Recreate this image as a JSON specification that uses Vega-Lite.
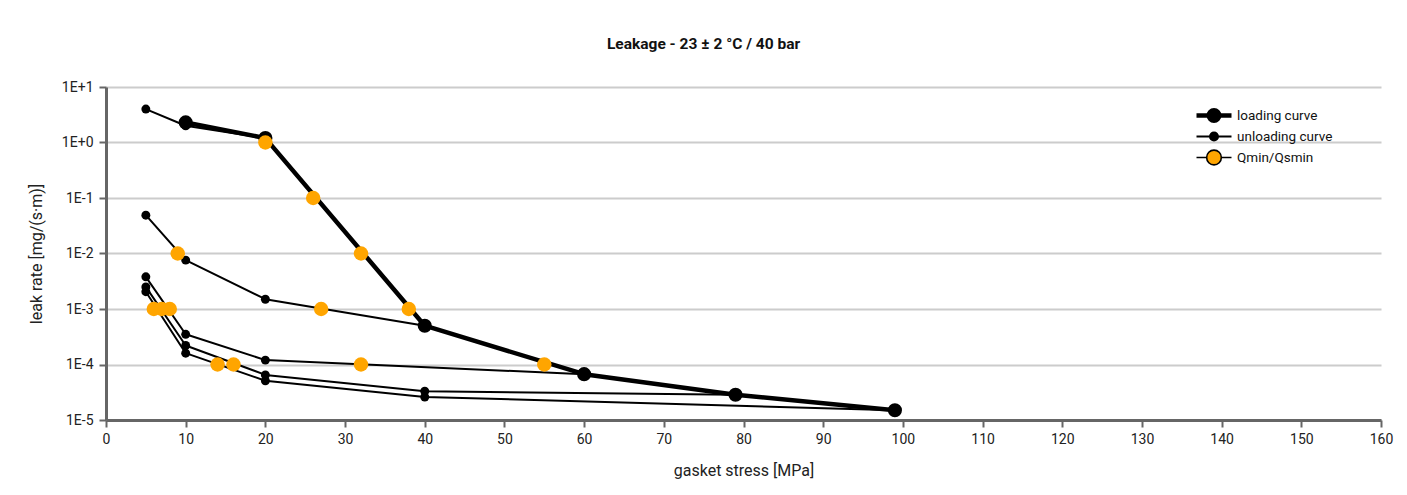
{
  "$schema": "https://vega.github.io/schema/vega-lite/v6.json",
  "width": 1275,
  "height": 333,
  "autosize": {"type": "none"},
  "padding": {"left": 106, "top": 87, "right": 26, "bottom": 75},
  "background": "white",
  "title": {
    "text": "Leakage - 23 ± 2 °C / 40 bar",
    "font": "Roboto",
    "fontSize": 15.5,
    "fontWeight": "bold",
    "color": "#111111",
    "anchor": "middle",
    "dx": -40,
    "offset": 28
  },
  "config": {
    "font": "Roboto",
    "view": {"stroke": null},
    "axis": {
      "domainColor": "#666666",
      "domainWidth": 3,
      "tickColor": "#666666",
      "tickWidth": 2,
      "tickSize": 7,
      "labelFont": "Roboto",
      "labelFontSize": 14,
      "labelColor": "#222222",
      "labelFlush": false,
      "titleFont": "Roboto",
      "titleFontSize": 16,
      "titleFontWeight": "normal",
      "titleColor": "#222222",
      "gridColor": "#cccccc",
      "gridWidth": 2
    },
    "legend": {"labelFont": "Roboto", "labelFontSize": 13.5, "labelColor": "#111111"}
  },
  "data": {
    "values": [
      {"x": 10, "y": 2.3, "s": "loading curve", "c": "L", "o": 1},
      {"x": 20, "y": 1.2, "s": "loading curve", "c": "L", "o": 2},
      {"x": 40, "y": 0.0005, "s": "loading curve", "c": "L", "o": 3},
      {"x": 60, "y": 0.000067, "s": "loading curve", "c": "L", "o": 4},
      {"x": 79, "y": 0.0000285, "s": "loading curve", "c": "L", "o": 5},
      {"x": 99, "y": 0.000015, "s": "loading curve", "c": "L", "o": 6},
      {"x": 20, "y": 1.2, "s": "unloading curve", "c": "U1", "o": 1},
      {"x": 10, "y": 2.0, "s": "unloading curve", "c": "U1", "o": 2},
      {"x": 5, "y": 4.0, "s": "unloading curve", "c": "U1", "o": 3},
      {"x": 40, "y": 0.0005, "s": "unloading curve", "c": "U2", "o": 1},
      {"x": 20, "y": 0.0015, "s": "unloading curve", "c": "U2", "o": 2},
      {"x": 10, "y": 0.0076, "s": "unloading curve", "c": "U2", "o": 3},
      {"x": 5, "y": 0.049, "s": "unloading curve", "c": "U2", "o": 4},
      {"x": 60, "y": 0.000067, "s": "unloading curve", "c": "U3", "o": 1},
      {"x": 20, "y": 0.00012, "s": "unloading curve", "c": "U3", "o": 2},
      {"x": 10, "y": 0.00035, "s": "unloading curve", "c": "U3", "o": 3},
      {"x": 5, "y": 0.0038, "s": "unloading curve", "c": "U3", "o": 4},
      {"x": 79, "y": 0.0000285, "s": "unloading curve", "c": "U4", "o": 1},
      {"x": 40, "y": 0.000033, "s": "unloading curve", "c": "U4", "o": 2},
      {"x": 20, "y": 0.000065, "s": "unloading curve", "c": "U4", "o": 3},
      {"x": 10, "y": 0.00022, "s": "unloading curve", "c": "U4", "o": 4},
      {"x": 5, "y": 0.0025, "s": "unloading curve", "c": "U4", "o": 5},
      {"x": 99, "y": 0.000015, "s": "unloading curve", "c": "U5", "o": 1},
      {"x": 40, "y": 0.000026, "s": "unloading curve", "c": "U5", "o": 2},
      {"x": 20, "y": 0.000051, "s": "unloading curve", "c": "U5", "o": 3},
      {"x": 10, "y": 0.00016, "s": "unloading curve", "c": "U5", "o": 4},
      {"x": 5, "y": 0.00205, "s": "unloading curve", "c": "U5", "o": 5},
      {"x": 20, "y": 1, "s": "Qmin/Qsmin", "c": "Q", "o": 1},
      {"x": 26, "y": 0.1, "s": "Qmin/Qsmin", "c": "Q", "o": 2},
      {"x": 32, "y": 0.01, "s": "Qmin/Qsmin", "c": "Q", "o": 3},
      {"x": 38, "y": 0.001, "s": "Qmin/Qsmin", "c": "Q", "o": 4},
      {"x": 55, "y": 0.0001, "s": "Qmin/Qsmin", "c": "Q", "o": 5},
      {"x": 9, "y": 0.01, "s": "Qmin/Qsmin", "c": "Q", "o": 6},
      {"x": 27, "y": 0.001, "s": "Qmin/Qsmin", "c": "Q", "o": 7},
      {"x": 32, "y": 0.0001, "s": "Qmin/Qsmin", "c": "Q", "o": 8},
      {"x": 6, "y": 0.001, "s": "Qmin/Qsmin", "c": "Q", "o": 9},
      {"x": 7, "y": 0.001, "s": "Qmin/Qsmin", "c": "Q", "o": 10},
      {"x": 8, "y": 0.001, "s": "Qmin/Qsmin", "c": "Q", "o": 11},
      {"x": 14, "y": 0.0001, "s": "Qmin/Qsmin", "c": "Q", "o": 12},
      {"x": 16, "y": 0.0001, "s": "Qmin/Qsmin", "c": "Q", "o": 13}
    ]
  },
  "encoding": {
    "x": {
      "field": "x",
      "type": "quantitative",
      "scale": {"domain": [0, 160], "nice": false, "zero": false},
      "axis": {
        "title": "gasket stress [MPa]",
        "values": [0, 10, 20, 30, 40, 50, 60, 70, 80, 90, 100, 110, 120, 130, 140, 150, 160],
        "grid": false,
        "labelPadding": 5,
        "titlePadding": 16
      }
    },
    "y": {
      "field": "y",
      "type": "quantitative",
      "scale": {"type": "log", "domain": [0.00001, 10], "nice": false},
      "axis": {
        "title": "leak rate [mg/(s·m)]",
        "values": [0.00001, 0.0001, 0.001, 0.01, 0.1, 1, 10],
        "grid": true,
        "labelExpr": "'1E' + (datum.value >= 1 ? '+' : '') + round(log(datum.value) / LN10)",
        "labelPadding": 6,
        "titlePadding": 17
      }
    }
  },
  "layer": [
    {
      "transform": [{"filter": "datum.s !== 'Qmin/Qsmin'"}],
      "mark": {"type": "line", "color": "black", "strokeJoin": "round", "strokeCap": "round"},
      "encoding": {
        "detail": {"field": "c", "type": "nominal"},
        "order": {"field": "o", "type": "quantitative"},
        "strokeWidth": {
          "field": "s",
          "type": "nominal",
          "scale": {"type": "ordinal", "domain": ["loading curve", "unloading curve", "Qmin/Qsmin"], "range": [4.5, 2, 2]},
          "legend": null
        }
      }
    },
    {
      "mark": {"type": "point", "filled": true, "opacity": 1, "shape": "circle"},
      "encoding": {
        "color": {
          "field": "s",
          "type": "nominal",
          "sort": ["loading curve", "unloading curve", "Qmin/Qsmin"],
          "scale": {"range": ["#000000", "#000000", "#FFA500"]},
          "legend": {
            "title": null,
            "orient": "none",
            "legendX": 1089.5,
            "legendY": 18,
            "padding": 0,
            "rowPadding": 0,
            "clipHeight": 21,
            "symbolSize": 1225,
            "symbolType": {"expr": "datum.value === 'loading curve' ? 'M-1,0L-0.3,0M0.3,0L1,0M-0.3,0A0.3,0.3,0,1,1,0.3,0A0.3,0.3,0,1,1,-0.3,0Z' : datum.value === 'unloading curve' ? 'M-1,0L-0.23,0M0.23,0L1,0M-0.23,0A0.23,0.23,0,1,1,0.23,0A0.23,0.23,0,1,1,-0.23,0Z' : 'M-1,0L-0.42,0M0.42,0L1,0M-0.42,0A0.42,0.42,0,1,1,0.42,0A0.42,0.42,0,1,1,-0.42,0Z'"},
            "symbolStrokeColor": "#000000",
            "symbolStrokeWidth": {"expr": "(datum.value === 'loading curve' ? 4.5 : datum.value === 'unloading curve' ? 2 : 1.6)"},
            "symbolOpacity": 1,
            "labelOffset": 4.5,
            "zindex": 1
          }
        },
        "size": {
          "field": "s",
          "type": "nominal",
          "scale": {"type": "ordinal", "domain": ["loading curve", "unloading curve", "Qmin/Qsmin"], "range": [200, 80, 210]},
          "legend": null
        }
      }
    }
  ]
}
